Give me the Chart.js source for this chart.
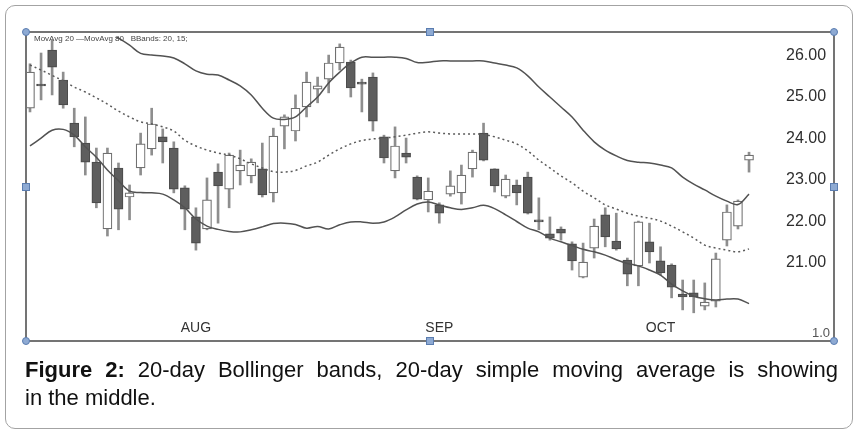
<!DOCTYPE html>
<html>
<head>
<meta charset="utf-8">
<script src="https://cdn.jsdelivr.net/npm/chart.js@4.4.1/dist/chart.umd.min.js"></script>
<style>
  body { margin: 0; background: #fff; width: 860px; height: 435px; position: relative; overflow: hidden;
         font-family: "Liberation Sans", Arial, sans-serif; }
  #box { position: absolute; left: 5px; top: 5px; width: 846px; height: 422px;
         border: 1px solid #a3a3a3; border-radius: 10px; }
  #frame { position: absolute; left: 25px; top: 31px; width: 806px; height: 307px; border: 2px solid #747474; }
  #chart { position: absolute; left: 27px; top: 33px; }
  .h { position: absolute; width: 6px; height: 6px; background: #8eaad3; border: 1px solid #5b7db0; }
  .h.r { border-radius: 50%; }
  #leg { position: absolute; left: 34px; top: 34px; font-size: 8px; color: #444; white-space: pre; }
  #vol { position: absolute; left: 812px; top: 325px; font-size: 13px; color: #555; }
  #cap { position: absolute; left: 25px; top: 356px; width: 813px; font-size: 22px; line-height: 28px; color: #111; }
  #cap .l1 { text-align: justify; text-align-last: justify; }
</style>
</head>
<body>
<div id="box"></div>
<div id="frame"></div>
<canvas id="chart" width="806" height="307"></canvas>
<div id="leg">MovAvg 20 —MovAvg 80   BBands: 20, 15;</div>
<div id="vol">1.0</div>
<div class="h r" style="left:22px;top:28px"></div>
<div class="h" style="left:426px;top:28px"></div>
<div class="h r" style="left:830px;top:28px"></div>
<div class="h" style="left:22px;top:183px"></div>
<div class="h" style="left:830px;top:183px"></div>
<div class="h r" style="left:22px;top:337px"></div>
<div class="h" style="left:426px;top:337px"></div>
<div class="h r" style="left:830px;top:337px"></div>
<div id="cap">
  <div class="l1"><b>Figure 2:</b> 20-day Bollinger bands, 20-day simple moving average is showing</div>
  <div>in the middle.</div>
</div>
<script>
// daily candles, Jul -> Oct
const open = [24.73,25.31,26.13,25.41,24.37,23.89,23.43,21.82,23.29,22.59,
  23.29,23.75,24.04,23.77,22.81,22.11,21.82,23.19,22.78,23.22,
  23.10,23.27,22.69,24.30,24.18,24.76,25.19,25.43,25.82,25.84,
  25.36,25.48,24.04,23.22,23.65,23.07,22.52,22.40,22.66,22.69,
  23.27,24.13,23.27,22.61,22.88,23.07,22.04,21.70,21.82,21.46,
  20.66,21.36,22.16,21.53,21.07,20.93,21.51,21.05,20.95,20.25,
  20.28,19.96,20.08,21.55,21.89,23.48];
const close = [25.60,25.27,25.72,24.81,24.04,23.43,22.45,23.65,22.30,22.69,
  23.87,24.35,23.92,22.78,22.30,21.48,22.52,22.86,23.60,23.36,
  23.43,22.64,24.06,24.52,24.73,25.36,25.27,25.82,26.20,25.22,
  25.31,24.42,23.53,23.82,23.55,22.54,22.73,22.20,22.86,23.12,
  23.67,23.48,22.86,23.02,22.69,22.20,21.99,21.60,21.72,21.05,
  21.02,21.89,21.63,21.34,20.73,21.99,21.27,20.76,20.42,20.18,
  20.18,20.06,21.10,22.23,22.49,23.60];
const high = [25.80,26.06,26.37,25.60,24.73,24.52,23.77,23.77,23.41,22.88,
  24.13,24.73,24.23,23.92,22.86,22.33,23.05,23.39,23.65,23.72,
  23.51,23.89,24.25,24.57,25.05,25.60,25.48,26.01,26.28,25.89,
  25.43,25.58,24.08,24.28,24.01,23.10,23.05,22.45,23.22,23.36,
  23.72,24.37,23.27,23.12,23.00,23.19,22.57,22.11,21.87,21.51,
  21.48,22.06,22.33,22.20,21.12,22.01,21.96,21.39,20.98,20.59,
  20.59,20.52,21.24,22.40,22.52,23.67];
const low = [24.64,24.93,25.05,24.73,23.80,23.12,22.33,21.65,21.80,22.04,
  23.12,23.60,23.41,22.69,21.80,21.31,21.80,21.96,22.33,22.88,
  22.93,22.59,22.47,23.75,23.94,24.52,24.86,25.10,25.65,25.00,
  24.64,24.18,23.41,23.05,23.41,22.52,22.23,21.96,22.61,22.42,
  23.07,23.46,22.71,22.57,22.40,22.18,21.80,21.55,21.55,20.83,
  20.64,21.12,21.39,21.31,20.45,20.45,21.00,20.71,20.16,19.87,
  19.80,19.87,19.94,21.41,21.82,23.19];

// bollinger bands (20)
const upperBand = [27.00,27.00,26.95,26.90,26.85,26.75,26.65,26.55,
  26.42,26.25,26.05,26.01,25.99,25.94,25.80,25.63,
  25.55,25.53,25.41,25.27,25.05,24.73,24.49,24.46,
  24.52,24.76,25.00,25.34,25.60,25.82,25.96,25.96,
  25.96,25.96,25.93,25.83,25.84,25.87,25.87,25.87,
  25.87,25.87,25.82,25.77,25.70,25.51,25.24,25.00,
  24.76,24.52,24.20,23.92,23.72,23.58,23.47,23.43,
  23.41,23.36,23.29,23.07,22.90,22.76,22.61,22.49,
  22.41,22.66];
const middleBand = [25.77,25.65,25.52,25.39,25.24,25.12,24.98,24.83,
  24.66,24.52,24.40,24.35,24.28,24.18,23.96,23.82,
  23.72,23.65,23.60,23.51,23.39,23.29,23.20,23.19,
  23.23,23.34,23.43,23.60,23.75,23.87,23.95,23.99,
  24.01,24.04,24.08,24.13,24.16,24.13,24.11,24.11,
  24.11,24.10,24.04,23.96,23.87,23.70,23.48,23.29,
  23.10,22.93,22.73,22.57,22.40,22.30,22.20,22.13,
  22.08,22.01,21.89,21.75,21.60,21.43,21.36,21.31,
  21.27,21.34];
const lowerBand = [23.82,24.01,24.20,24.22,24.08,23.80,23.55,23.24,
  22.98,22.73,22.70,22.69,22.66,22.52,22.33,22.06,
  21.89,21.81,21.76,21.75,21.80,21.87,21.95,21.96,
  21.93,21.84,21.88,21.82,21.92,21.99,21.99,21.96,
  21.99,22.11,22.28,22.42,22.47,22.40,22.33,22.29,
  22.33,22.39,22.31,22.16,22.00,21.84,21.75,21.60,
  21.51,21.42,21.33,21.27,21.19,21.08,20.99,20.93,
  20.83,20.71,20.49,20.33,20.20,20.14,20.11,20.13,
  20.13,20.02];

const monthPos = [15, 37, 57];
const monthLabels = ['AUG', 'SEP', 'OCT'];
const priceTicks = [21, 22, 23, 24, 25, 26];

const idx = open.map((_, i) => i);
const up = idx.map(i => close[i] >= open[i]);
const pts = arr => idx.map(i => ({ x: i, y: arr[i] }));

const linha = (arr, extra) => Object.assign({
  type: 'line',
  data: pts(arr),
  borderColor: '#525252',
  borderWidth: 1.5,
  pointRadius: 0,
  tension: 0.35,
  fill: false,
  order: 0
}, extra);

const chart = new Chart(document.getElementById('chart'), {
  type: 'bar',
  data: {
    datasets: [
      {
        data: idx.map(i => ({ x: i, y: [low[i], high[i]] })),
        backgroundColor: '#8e8e8e',
        borderWidth: 0,
        barThickness: 2,
        grouped: false,
        order: 2
      },
      {
        data: idx.map(i => ({ x: i, y: [open[i], close[i]] })),
        backgroundColor: up.map(u => u ? '#ffffff' : '#5e5e5e'),
        borderColor: up.map(u => u ? '#707070' : '#4c4c4c'),
        borderWidth: 1.2,
        borderSkipped: false,
        barThickness: 9,
        grouped: false,
        order: 1
      },
      linha(upperBand),
      linha(middleBand, { borderDash: [2, 3], borderColor: '#5a5a5a' }),
      linha(lowerBand)
    ]
  },
  options: {
    responsive: false,
    animation: false,
    devicePixelRatio: 1,
    layout: { autoPadding: false, padding: { top: 4, left: 0, right: 0, bottom: 0 } },
    plugins: { legend: { display: false }, tooltip: { enabled: false } },
    scales: {
      x: {
        type: 'linear',
        offset: false,
        min: -0.27,
        max: 66.9,
        grid: { display: false, drawTicks: false },
        border: { display: false },
        afterBuildTicks: s => { s.ticks = monthPos.map(v => ({ value: v })); },
        afterFit: s => { s.height = 22; },
        ticks: {
          autoSkip: false,
          maxRotation: 0,
          padding: 2,
          color: '#333',
          font: { family: 'Liberation Sans', size: 14 },
          callback: v => monthLabels[monthPos.indexOf(v)]
        }
      },
      y: {
        position: 'right',
        min: 19.675,
        max: 26.446,
        // tickLength so' para afastar os rotulos; as marcas nao sao desenhadas
        grid: { display: false, drawTicks: true, tickLength: 16 },
        border: { display: false },
        afterBuildTicks: s => { s.ticks = priceTicks.map(v => ({ value: v })); },
        afterFit: s => { s.width = 63; },
        ticks: {
          padding: 0,
          color: '#2e2e2e',
          font: { family: 'Liberation Sans', size: 16, lineHeight: 0.4 },
          callback: v => v.toFixed(2)
        }
      }
    }
  }
});

// ajusta a escala para casar com a figura: 26.00 em y=22.5 do canvas, 41.5 px por unidade,
// candle 0 em x=3, 11.062 px por candle
const ca = chart.chartArea;
chart.options.scales.y.max = 26 + (22.5 - ca.top) / 41.5;
chart.options.scales.y.min = 26 - (ca.bottom - 22.5) / 41.5;
chart.options.scales.x.min = (ca.left - 3) / 11.062;
chart.options.scales.x.max = (ca.right - 3) / 11.062;
chart.update();
</script>
</body>
</html>
